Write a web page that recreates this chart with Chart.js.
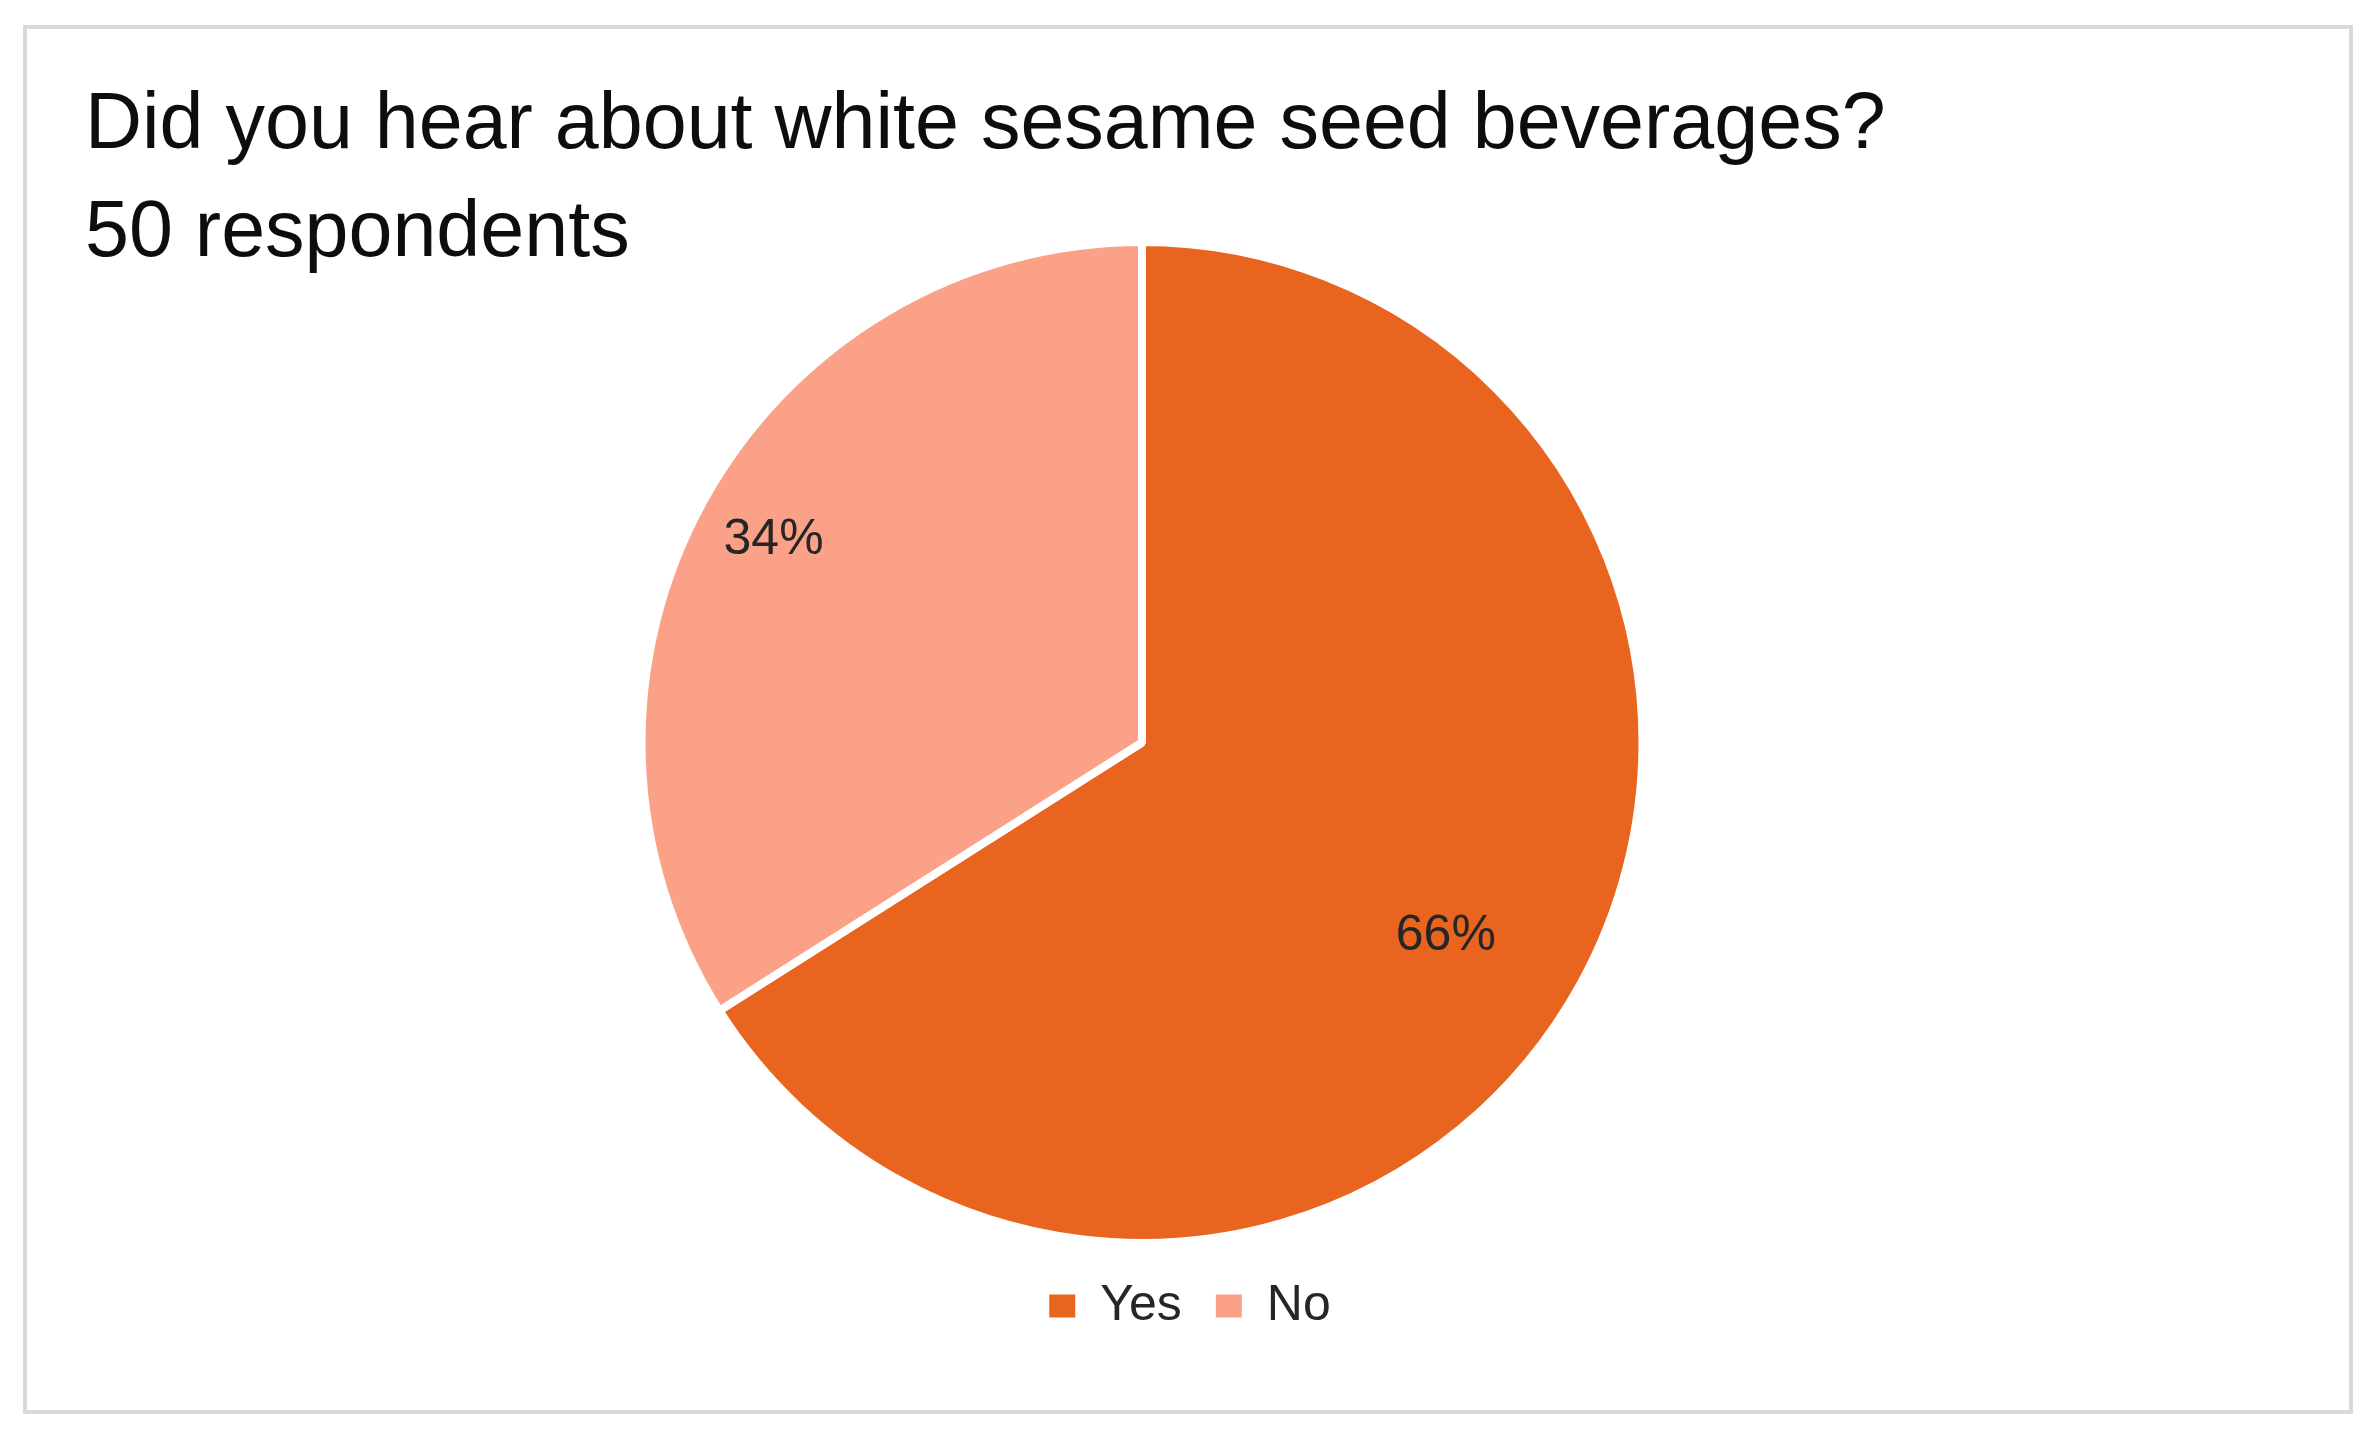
<!DOCTYPE html>
<html>
<head>
<meta charset="utf-8">
<title>White sesame seed beverages</title>
<script src="https://cdn.jsdelivr.net/npm/chart.js@4"></script>
<style>
    body { margin: 0; background: #ffffff; }
    #chart { display: block; }
</style>
</head>
<body>
<canvas id="chart" width="2369" height="1429"></canvas>
<script>
const categorias = ["Yes", "No"];
const porcentajes = [66, 34];
const colores = ["#E8641F", "#FAA187"];
const titulo = ["Did you hear about white sesame seed beverages?", "50 respondents"];
const myChart = document.getElementById("chart");

//---------------------------------------------- marco y titulo
const marcoTitulo = {
    id: "marcoTitulo",
    beforeDraw(chart) {
        const ctx = chart.ctx;
        ctx.save();
        ctx.strokeStyle = "#D9D9D9";
        ctx.lineWidth = 4;
        ctx.strokeRect(25, 27, 2326, 1385);
        ctx.restore();
    },
    afterDraw(chart) {
        const ctx = chart.ctx;
        ctx.save();
        ctx.fillStyle = "#0d0d0d";
        ctx.font = "79px 'Liberation Sans', Arial, sans-serif";
        ctx.textAlign = "left";
        ctx.textBaseline = "alphabetic";
        ctx.fillText(titulo[0], 85, 148);
        ctx.fillText(titulo[1], 85, 256);
        ctx.restore();
    }
};

//---------------------------------------------- etiquetas de porcentaje
const etiquetas = {
    id: "etiquetas",
    afterDatasetsDraw(chart, args, opts) {
        const ctx = chart.ctx;
        const meta = chart.getDatasetMeta(0);
        ctx.save();
        ctx.fillStyle = "#262626";
        ctx.font = "50px 'Liberation Sans', Arial, sans-serif";
        ctx.textAlign = "center";
        ctx.textBaseline = "middle";
        meta.data.forEach((arc, i) => {
            const p = arc.getProps(["x", "y", "startAngle", "endAngle", "outerRadius"], true);
            const medio = (p.startAngle + p.endAngle) / 2 + opts.giro[i];
            const r = p.outerRadius * opts.radio[i];
            ctx.fillText(porcentajes[i] + "%", p.x + Math.cos(medio) * r, p.y + Math.sin(medio) * r);
        });
        ctx.restore();
    }
};

// la leyenda va un poco corrida a la derecha respecto del pie
const moverLeyenda = {
    id: "moverLeyenda",
    afterLayout(chart, args, opts) {
        chart.legend.left += opts.dx;
        chart.legend.right += opts.dx;
    }
};

const config = {
    type: "pie",
    data: {
        labels: categorias,
        datasets: [{
            data: porcentajes,
            backgroundColor: colores,
            borderColor: "#ffffff",
            borderWidth: 8
        }]
    },
    options: {
        responsive: false,
        devicePixelRatio: 1,
        animation: false,
        layout: {
            padding: { top: 238, left: 0, right: 85, bottom: 88 }
        },
        plugins: {
            title: { display: false },
            tooltip: { enabled: false },
            legend: {
                position: "bottom",
                labels: {
                    boxWidth: 26,
                    boxHeight: 23,
                    padding: 34,
                    color: "#262626",
                    font: { size: 50, family: "'Liberation Sans', Arial, sans-serif" },
                    generateLabels: (chart) => {
                        const base = Chart.overrides.doughnut.plugins.legend.labels.generateLabels(chart);
                        return base.map(l => ({ ...l, lineWidth: 0, strokeStyle: l.fillStyle }));
                    }
                }
            },
            etiquetas: { radio: [0.72, 0.84], giro: [0.065, 0] },
            moverLeyenda: { dx: 48 }
        }
    },
    plugins: [marcoTitulo, etiquetas, moverLeyenda]
};

const graficar = new Chart(myChart, config);
</script>
</body>
</html>
